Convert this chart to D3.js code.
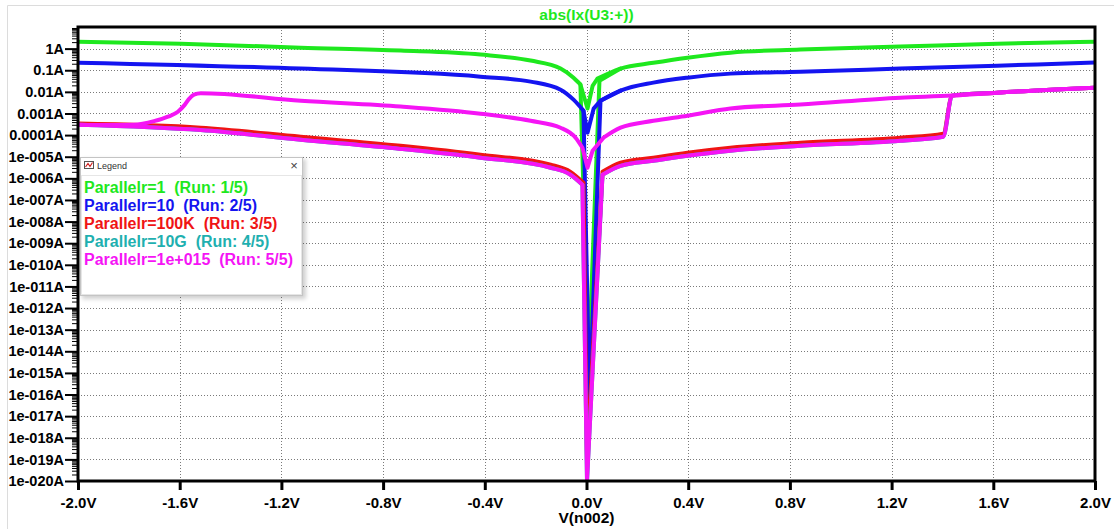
<!DOCTYPE html>
<html>
<head>
<meta charset="utf-8">
<script src="https://cdn.jsdelivr.net/npm/d3@7"></script>
<style>
  html, body { margin: 0; padding: 0; background: #fff; }
  svg { display: block; font-family: "Liberation Sans", Arial, sans-serif; }
</style>
</head>
<body>
<svg id="chart" width="1114" height="529"></svg>
<script>
// ---- step parameter runs ----
const runLabels = ["Parallelr=1", "Parallelr=10", "Parallelr=100K", "Parallelr=10G", "Parallelr=1e+015"];
const runColors = ["#1ee81e", "#1414f0", "#f01414", "#1fb0b0", "#f514f5"];

// ---- axis ticks ----
const xTicks = [-2.0, -1.6, -1.2, -0.8, -0.4, 0.0, 0.4, 0.8, 1.2, 1.6, 2.0];
const yTicks = [1, 1e-1, 1e-2, 1e-3, 1e-4, 1e-5, 1e-6, 1e-7, 1e-8, 1e-9, 1e-10,
                1e-11, 1e-12, 1e-13, 1e-14, 1e-15, 1e-16, 1e-17, 1e-18, 1e-19, 1e-20];
const yTickLabels = ["1A", "0.1A", "0.01A", "0.001A", "0.0001A", "1e-005A", "1e-006A",
  "1e-007A", "1e-008A", "1e-009A", "1e-010A", "1e-011A", "1e-012A", "1e-013A", "1e-014A",
  "1e-015A", "1e-016A", "1e-017A", "1e-018A", "1e-019A", "1e-020A"];

// ---- traces: [V(n002) in volts, abs(Ix(U3:+)) in amps] ----
// Run 1: forward sweep, and the return sweep where it departs near 0 V
const run1Up = [[-2.0, 2.1], [-1.595, 1.7], [-1.124, 1.1], [-0.731, 0.81], [-0.417, 0.53],
  [-0.22, 0.28], [-0.102, 0.12], [-0.051, 0.045], [-0.024, 0.022], [0.004, 1.7e-3],
  [0.024, 0.019], [0.043, 0.041], [0.134, 0.12], [0.263, 0.22], [0.397, 0.38],
  [0.566, 0.65], [0.841, 0.90], [1.234, 1.24], [1.615, 1.7], [2.0, 2.1]];
const run1Back = [[-0.024, 0.022], [0.008, 2.1e-15], [0.051, 0.033], [0.134, 0.12]];

// Run 2
const run2Up = [[-2.0, 0.225], [-1.124, 0.119], [-0.417, 0.0506], [-0.22, 0.0297],
  [-0.102, 0.0126], [-0.051, 0.00435], [-0.012, 0.00135], [0.004, 1.3e-4],
  [0.028, 0.00167], [0.055, 0.0039], [0.134, 0.0114], [0.263, 0.0267], [0.397, 0.0454],
  [0.566, 0.0697], [0.841, 0.086], [1.234, 0.119], [1.615, 0.163], [2.0, 0.225]];
const run2Back = [[-0.012, 0.00135], [0.012, 3.7e-17], [0.055, 0.0039], [0.134, 0.0114]];

// Run 3
const run3Up = [[-2.0, 3.4e-4], [-1.517, 2.2e-4], [-1.124, 8.4e-5], [-0.731, 3.2e-5],
  [-0.417, 1.24e-5], [-0.141, 4.3e-6], [-0.063, 2.0e-6], [-0.012, 6.3e-7], [0.002, 1e-19],
  [0.063, 2.0e-6], [0.134, 5.3e-6], [0.263, 9.0e-6], [0.397, 1.53e-5], [0.566, 2.6e-5],
  [0.841, 4.4e-5], [1.234, 7.6e-5], [1.403, 1.16e-4], [1.438, 6.7e-3], [1.615, 9.2e-3],
  [2.0, 0.0156]];

// Run 4
const run4Up = [[-2.0, 3.0e-4], [-1.517, 1.7e-4], [-1.124, 6.1e-5], [-0.731, 2.3e-5],
  [-0.417, 9.0e-6], [-0.141, 3.1e-6], [-0.063, 1.47e-6], [-0.016, 5.1e-7], [0.002, 1e-20],
  [0.063, 1.47e-6], [0.134, 3.8e-6], [0.263, 6.5e-6], [0.397, 1.1e-5], [0.566, 1.9e-5],
  [0.841, 3.2e-5], [1.234, 5.5e-5], [1.403, 8.4e-5], [1.438, 6.7e-3], [1.615, 9.2e-3],
  [2.0, 0.0156]];

// Run 5: forward sweep (switches high at +1.42 V) and return sweep (drops at -1.6 V)
const run5Up = [[-2.0, 3.0e-4], [-1.517, 1.7e-4], [-1.124, 6.1e-5], [-0.731, 2.3e-5],
  [-0.417, 9.0e-6], [-0.141, 3.1e-6], [-0.063, 1.47e-6], [-0.016, 5.1e-7], [0.002, 1e-20],
  [0.063, 1.47e-6], [0.134, 3.8e-6], [0.263, 6.5e-6], [0.397, 1.1e-5], [0.566, 1.9e-5],
  [0.841, 3.2e-5], [1.234, 5.5e-5], [1.403, 8.4e-5], [1.438, 6.7e-3], [1.615, 9.2e-3],
  [2.0, 0.0156]];
const run5Back = [[-2.0, 3.0e-4], [-1.870, 2.9e-4], [-1.780, 3.0e-4], [-1.701, 4.4e-4],
  [-1.646, 7.1e-4], [-1.607, 1.2e-3], [-1.583, 2.3e-3], [-1.564, 4.6e-3], [-1.544, 7.4e-3],
  [-1.517, 8.7e-3], [-1.124, 3.9e-3], [-0.731, 2.1e-3], [-0.417, 9.8e-4], [-0.22, 4.6e-4],
  [-0.102, 2.2e-4], [-0.043, 7.6e-5], [-0.016, 2.6e-5], [0.004, 3.1e-6], [0.024, 1.9e-5],
  [0.067, 7.6e-5], [0.134, 2.2e-4], [0.263, 4.6e-4], [0.397, 7.9e-4], [0.566, 1.7e-3],
  [0.841, 2.6e-3], [1.234, 5.4e-3], [1.438, 6.7e-3], [1.615, 9.2e-3], [2.0, 0.0156]];

const traces = [
  { run: 0, pts: run1Up }, { run: 0, pts: run1Back },
  { run: 1, pts: run2Up }, { run: 1, pts: run2Back },
  { run: 2, pts: run3Up },
  { run: 3, pts: run4Up },
  { run: 4, pts: run5Up }, { run: 4, pts: run5Back }
];

// ---- layout ----
const svg = d3.select("#chart");
const plotLeft = 78, plotRight = 1095, plotTop = 27, plotBottom = 481;
const x = d3.scaleLinear().domain([-2, 2]).range([plotLeft, plotRight]);
const y = d3.scaleLog().domain([1e-20, 10]).range([plotBottom, plotTop]);
const fontBold = "bold";
const defs = svg.append("defs");

// window frame lines
svg.append("line").attr("x1", 7.5).attr("x2", 1114).attr("y1", 5.5).attr("y2", 5.5)
  .attr("stroke", "#dcdcdc");
svg.append("line").attr("x1", 7.5).attr("x2", 7.5).attr("y1", 5.5).attr("y2", 529)
  .attr("stroke", "#dcdcdc");

// grid
const grid = svg.append("g").attr("stroke", "#7a7a7a").attr("stroke-width", 1)
  .attr("stroke-dasharray", "1,2").attr("shape-rendering", "crispEdges");
grid.selectAll("line.h").data(yTicks.filter(d => d > 1e-20)).join("line")
  .attr("class", "h")
  .attr("x1", plotLeft).attr("x2", plotRight)
  .attr("y1", d => Math.round(y(d)) + 0.5).attr("y2", d => Math.round(y(d)) + 0.5);
grid.selectAll("line.v").data(xTicks.filter(d => Math.abs(d) < 2)).join("line")
  .attr("class", "v")
  .attr("y1", plotTop).attr("y2", plotBottom)
  .attr("x1", d => Math.round(x(d)) + 0.5).attr("x2", d => Math.round(x(d)) + 0.5);

// traces: smooth on the wide branches, straight segments through the notch at 0 V
defs.append("clipPath").attr("id", "plotClip")
  .append("rect").attr("x", plotLeft).attr("y", plotTop)
  .attr("width", plotRight - plotLeft).attr("height", plotBottom - plotTop + 1);
const smooth = d3.line().x(d => x(d[0])).y(d => y(d[1])).curve(d3.curveMonotoneX);
const straight = d3.line().x(d => x(d[0])).y(d => y(d[1]));
function tracePath(pts) {
  let iL = 0;
  pts.forEach((p, i) => { if (p[0] < -0.005) iL = i; });
  let iR = pts.findIndex(p => p[0] > 0.04);
  if (iR < 0) iR = pts.length - 1;
  const parts = [];
  if (iL > 0) parts.push(smooth(pts.slice(0, iL + 1)));
  parts.push(straight(pts.slice(iL, iR + 1)));
  if (iR < pts.length - 1) parts.push(smooth(pts.slice(iR)));
  return parts.join("");
}
svg.append("g").attr("clip-path", "url(#plotClip)")
  .selectAll("path").data(traces).join("path")
  .attr("d", d => tracePath(d.pts))
  .attr("fill", "none")
  .attr("stroke", d => runColors[d.run])
  .attr("stroke-width", 4)
  .attr("stroke-linejoin", "round")
  .attr("stroke-linecap", "round");

// minor log ticks on the current axis
const minorTicks = [];
for (let k = -20; k <= 0; k++) for (let m = 2; m <= 9; m++) minorTicks.push(m * Math.pow(10, k));
const gMinor = svg.append("g").attr("transform", `translate(${plotLeft},0)`)
  .call(d3.axisLeft(y).tickValues(minorTicks).tickSize(6).tickFormat(""));
gMinor.select(".domain").remove();
gMinor.selectAll(".tick line").attr("stroke", "#000").attr("stroke-width", 1);

// major current ticks and labels
const gY = svg.append("g").attr("transform", `translate(${plotLeft},0)`)
  .call(d3.axisLeft(y).tickValues(yTicks).tickFormat((d, i) => yTickLabels[i])
    .tickSize(13).tickPadding(1));
gY.select(".domain").remove();
gY.selectAll(".tick line").attr("stroke", "#000").attr("stroke-width", 2);
gY.selectAll(".tick text").attr("fill", "#000").attr("font-size", "14.5px")
  .attr("font-weight", fontBold).attr("font-family", "Liberation Sans, Arial, sans-serif");

// voltage axis
const gX = svg.append("g").attr("transform", `translate(0,${plotBottom})`)
  .call(d3.axisBottom(x).tickValues(xTicks).tickFormat(d => d.toFixed(1) + "V").tickSize(9));
gX.select(".domain").remove();
gX.selectAll(".tick line").attr("stroke", "#000").attr("stroke-width", 3);
gX.selectAll(".tick text").attr("fill", "#000").attr("font-size", "15px")
  .attr("font-weight", fontBold).attr("font-family", "Liberation Sans, Arial, sans-serif")
  .attr("y", 27).attr("dy", 0);

// plot frame
svg.append("rect").attr("x", plotLeft).attr("y", plotTop)
  .attr("width", plotRight - plotLeft).attr("height", plotBottom - plotTop)
  .attr("fill", "none").attr("stroke", "#000").attr("stroke-width", 3);

// title and axis label
svg.append("text").attr("x", (plotLeft + plotRight) / 2).attr("y", 20).attr("text-anchor", "middle")
  .attr("font-size", "15.5px").attr("font-weight", fontBold).attr("fill", runColors[0])
  .text("abs(Ix(U3:+))");
svg.append("text").attr("x", (plotLeft + plotRight) / 2).attr("y", 523).attr("text-anchor", "middle")
  .attr("font-size", "15.5px").attr("font-weight", fontBold).attr("fill", "#000")
  .text("V(n002)");

// legend window
const filt = defs.append("filter").attr("id", "shadow")
  .attr("x", "-10%").attr("y", "-10%").attr("width", "130%").attr("height", "130%");
filt.append("feGaussianBlur").attr("stdDeviation", 2);
const lg = svg.append("g");
lg.append("rect").attr("x", 82).attr("y", 159).attr("width", 224).attr("height", 140)
  .attr("fill", "#000").attr("opacity", 0.18).attr("filter", "url(#shadow)");
lg.append("rect").attr("x", 80.5).attr("y", 157.5).attr("width", 222).attr("height", 138)
  .attr("fill", "#fff").attr("stroke", "#c4c4c4");
lg.append("rect").attr("x", 81.5).attr("y", 175.5).attr("width", 220).attr("height", 119)
  .attr("fill", "#fff").attr("stroke", "#e6e6e6");
// title bar icon
lg.append("rect").attr("x", 84.5).attr("y", 161.5).attr("width", 9).attr("height", 7)
  .attr("fill", "none").attr("stroke", "#555").attr("stroke-width", 1);
lg.append("polyline").attr("points", "85.5,167 88,163.5 90,166.5 92.5,162.5")
  .attr("fill", "none").attr("stroke", "#d02020").attr("stroke-width", 1.2);
lg.append("text").attr("x", 97).attr("y", 168.5).attr("font-size", "9px").attr("fill", "#333")
  .text("Legend");
lg.append("text").attr("x", 294).attr("y", 169.5).attr("text-anchor", "middle")
  .attr("font-size", "13px").attr("fill", "#444").text("\u00d7");
lg.selectAll("text.entry").data(runLabels).join("text")
  .attr("class", "entry")
  .attr("x", 84).attr("y", (d, i) => 192.5 + i * 18.15)
  .attr("font-size", "16px").attr("font-weight", fontBold)
  .attr("fill", (d, i) => runColors[i])
  .style("white-space", "pre")
  .text((d, i) => `${d}  (Run: ${i + 1}/5)`);
</script>
</body>
</html>
